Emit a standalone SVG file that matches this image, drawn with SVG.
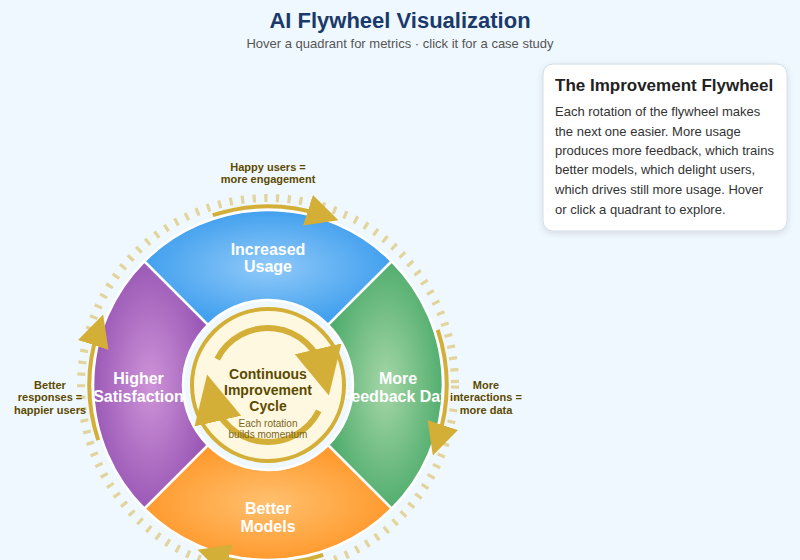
<svg xmlns="http://www.w3.org/2000/svg" width="800" height="560" viewBox="0 0 800 560">
<style>
text{font-family:"Liberation Sans",Arial,sans-serif}
.q{stroke:#fff;stroke-width:2.5}
.ql{font-size:16px;font-weight:700;fill:#fff;text-anchor:middle}
.edge{font-size:11px;font-weight:700;fill:#5c4a00;text-anchor:middle}
.arc{fill:none;stroke:#d4af37}
.hc{font-size:14px;font-weight:700;fill:#5c4a00;text-anchor:middle}
.hs{font-size:10px;fill:#7a6520;text-anchor:middle}
.body{font-size:13px;fill:#333}
</style>
<defs>
<radialGradient id="gb"><stop offset="0" stop-color="#90caf9"/><stop offset="1" stop-color="#42a0ee"/></radialGradient>
<radialGradient id="gg"><stop offset="0" stop-color="#a5d6a7"/><stop offset="1" stop-color="#52ae6e"/></radialGradient>
<radialGradient id="go"><stop offset="0" stop-color="#ffc06e"/><stop offset="1" stop-color="#ff9a2e"/></radialGradient>
<radialGradient id="gp"><stop offset="0" stop-color="#ce93d8"/><stop offset="1" stop-color="#9b59b6"/></radialGradient>
<marker id="ah" viewBox="0 0 8 8" refX="4" refY="4" markerWidth="8" markerHeight="8" orient="auto"><path d="M0 0L8 4L0 8z" fill="#d4af37"/></marker>
<filter id="sh" x="-10%" y="-10%" width="120%" height="125%"><feDropShadow dx="0" dy="2" stdDeviation="3" flood-color="#000" flood-opacity=".12"/></filter>
</defs>
<rect width="800" height="560" fill="#f0f8ff"/>
<g id="header">
<text x="400" y="28" font-size="22" font-weight="700" fill="#1a3a6b" text-anchor="middle">AI Flywheel Visualization</text>
<text x="400" y="48" font-size="13" fill="#555" text-anchor="middle">Hover a quadrant for metrics · click it for a case study</text>
</g>
<circle id="tick-ring" cx="268" cy="385" r="187" fill="none" stroke="#d4af37" stroke-width="8" stroke-dasharray="3.2 8.49" stroke-dashoffset="-0.4" opacity=".5"/>
<g id="usage"><path class="q" fill="url(#gb)" d="M144.3 261.3A175 175 0 0 1 391.7 261.3L328.1 324.9A85 85 0 0 0 207.9 324.9Z"/><text class="ql" x="268" y="255">Increased</text><text class="ql" x="268" y="272">Usage</text></g>
<g id="feedback"><path class="q" fill="url(#gg)" d="M391.7 261.3A175 175 0 0 1 391.7 508.7L328.1 445.1A85 85 0 0 0 328.1 324.9Z"/><text class="ql" x="398" y="384">More</text><text class="ql" x="398" y="402">Feedback Data</text></g>
<g id="models"><path class="q" fill="url(#go)" d="M391.7 508.7A175 175 0 0 1 144.3 508.7L207.9 445.1A85 85 0 0 0 328.1 445.1Z"/><text class="ql" x="268" y="514">Better</text><text class="ql" x="268" y="532">Models</text></g>
<g id="satisfaction"><path class="q" fill="url(#gp)" d="M144.3 508.7A175 175 0 0 1 144.3 261.3L207.9 324.9A85 85 0 0 0 207.9 445.1Z"/><text class="ql" x="138.5" y="384">Higher</text><text class="ql" x="138.5" y="402">Satisfaction</text></g>
<g id="connectors">
<path class="arc" stroke-width="4" marker-end="url(#ah)" d="M212.8 215.2A178.5 178.5 0 0 1 323.2 215.2"/>
<path class="arc" stroke-width="4" marker-end="url(#ah)" d="M437.8 329.8A178.5 178.5 0 0 1 437.8 440.2"/>
<path class="arc" stroke-width="4" marker-end="url(#ah)" d="M323.2 554.8A178.5 178.5 0 0 1 212.8 554.8"/>
<path class="arc" stroke-width="4" marker-end="url(#ah)" d="M98.2 440.2A178.5 178.5 0 0 1 98.2 329.8"/>
</g>
<g id="edge-labels">
<text class="edge" x="268" y="171">Happy users =</text><text class="edge" x="268" y="183">more engagement</text>
<text class="edge" x="486" y="389">More</text><text class="edge" x="486" y="401">interactions =</text><text class="edge" x="486" y="414">more data</text>
<text class="edge" x="50" y="389">Better</text><text class="edge" x="50" y="401">responses =</text><text class="edge" x="50" y="414">happier users</text>
</g>
<g id="hub">
<circle cx="268" cy="385" r="76" fill="#fff8e1" stroke="#d4af37" stroke-width="4"/>
<path class="arc" stroke-width="6" marker-end="url(#ah)" d="M217.2 359.1A57 57 0 0 1 323.5 372.2"/>
<path class="arc" stroke-width="6" marker-end="url(#ah)" d="M318.8 410.9A57 57 0 0 1 212.5 397.8"/>
<text class="hc" x="268" y="379">Continuous</text><text class="hc" x="268" y="395">Improvement</text><text class="hc" x="268" y="411">Cycle</text>
<text class="hs" x="268" y="427">Each rotation</text><text class="hs" x="268" y="438">builds momentum</text>
</g>
<g id="info-panel">
<rect x="543" y="64" width="244" height="167" rx="10" fill="#fff" stroke="#d0dce8" filter="url(#sh)"/>
<text x="555" y="91" font-size="17" font-weight="700" fill="#222">The Improvement Flywheel</text>
<text class="body" x="555" y="116">Each rotation of the flywheel makes</text>
<text class="body" x="555" y="136">the next one easier. More usage</text>
<text class="body" x="555" y="155">produces more feedback, which trains</text>
<text class="body" x="555" y="174">better models, which delight users,</text>
<text class="body" x="555" y="194">which drives still more usage. Hover</text>
<text class="body" x="555" y="214">or click a quadrant to explore.</text>
</g>
</svg>
